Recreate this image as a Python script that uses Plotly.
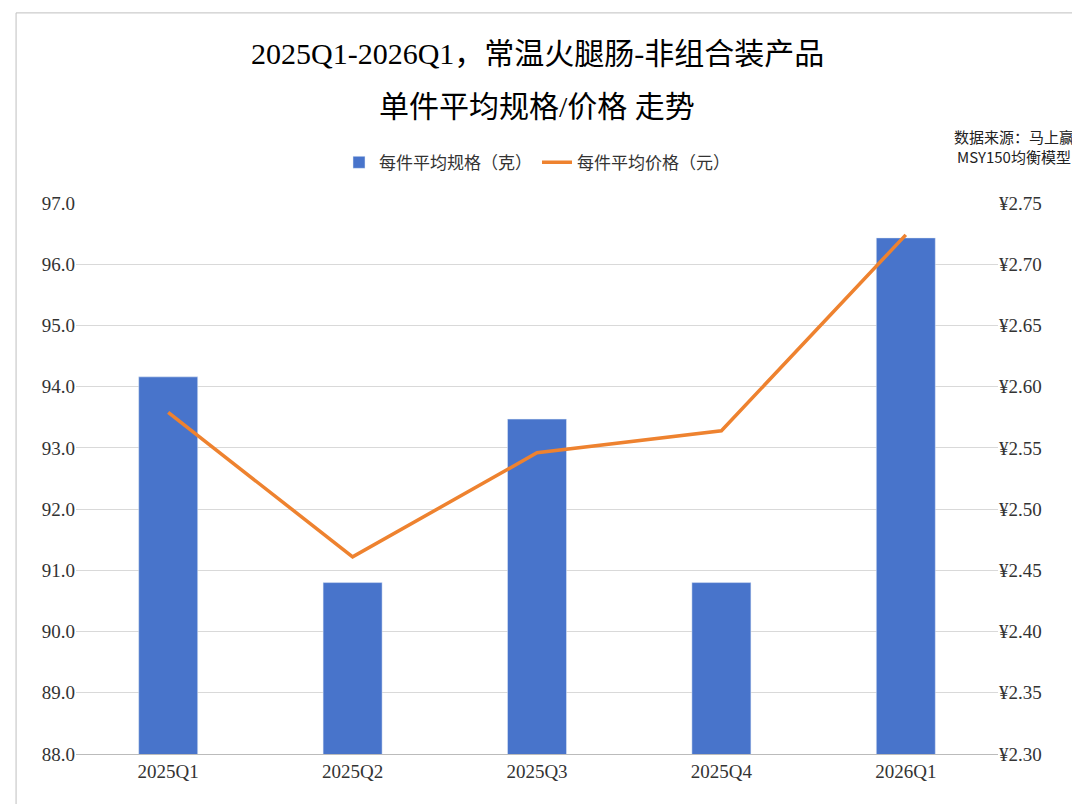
import plotly.graph_objects as go

quarters = ["2025Q1", "2025Q2", "2025Q3", "2025Q4", "2026Q1"]
avg_size = [94.16, 90.80, 93.47, 90.80, 96.43]
avg_price = [2.579, 2.461, 2.546, 2.564, 2.724]

serif = "Liberation Serif, Noto Sans CJK SC"
cjk = "Noto Sans CJK SC, Liberation Serif"

fig = go.Figure()
fig.add_trace(go.Bar(name="每件平均规格（克）", x=quarters, y=avg_size,
                     marker_color="#4874CB", width=0.32))
fig.add_trace(go.Scatter(name="每件平均价格（元）", x=quarters, y=avg_price, yaxis="y2",
                         mode="lines", line=dict(color="#EE822F", width=3.5)))

fig.update_layout(
    width=1080, height=804,
    paper_bgcolor="white", plot_bgcolor="white",
    margin=dict(l=68, r=90, t=195, b=58),
    legend=dict(orientation="h", x=0.5, xanchor="center", y=1.073, yanchor="middle",
                font=dict(family=cjk, size=17, color="#333"), traceorder="normal"),
    xaxis=dict(tickfont=dict(family=serif, size=19, color="#333"),
               showline=True, linecolor="#BBB", ticks=""),
    yaxis=dict(range=[88, 97], dtick=1, tickformat=".1f",
               tickfont=dict(family=serif, size=19, color="#333"),
               gridcolor="#D9D9D9", zeroline=False),
    yaxis2=dict(range=[2.30, 2.75], dtick=0.05, tickformat=".2f", tickprefix="¥",
                overlaying="y", side="right", showgrid=False,
                tickfont=dict(family=serif, size=19, color="#333")),
    annotations=[
        dict(text="2025Q1-2026Q1，常温火腿肠-非组合装产品", xref="paper", yref="paper",
             x=0.5, y=1.272, xanchor="center", yanchor="middle", showarrow=False,
             font=dict(family=serif, size=30, color="black")),
        dict(text="单件平均规格/价格 走势", xref="paper", yref="paper",
             x=0.5, y=1.176, xanchor="center", yanchor="middle", showarrow=False,
             font=dict(family=serif, size=30, color="black")),
        dict(text="数据来源：马上赢<br>MSY150均衡模型", xref="paper", yref="paper",
             x=1.085, y=1.103, xanchor="right", yanchor="middle", showarrow=False,
             align="center", font=dict(family=cjk, size=15, color="#222")),
    ],
    shapes=[dict(type="rect", xref="paper", yref="paper", x0=-0.065, x1=1.089,
                 y0=-0.094, y1=1.345, line=dict(color="#BFBFBF", width=1))],
)

fig.write_html("out.html")
